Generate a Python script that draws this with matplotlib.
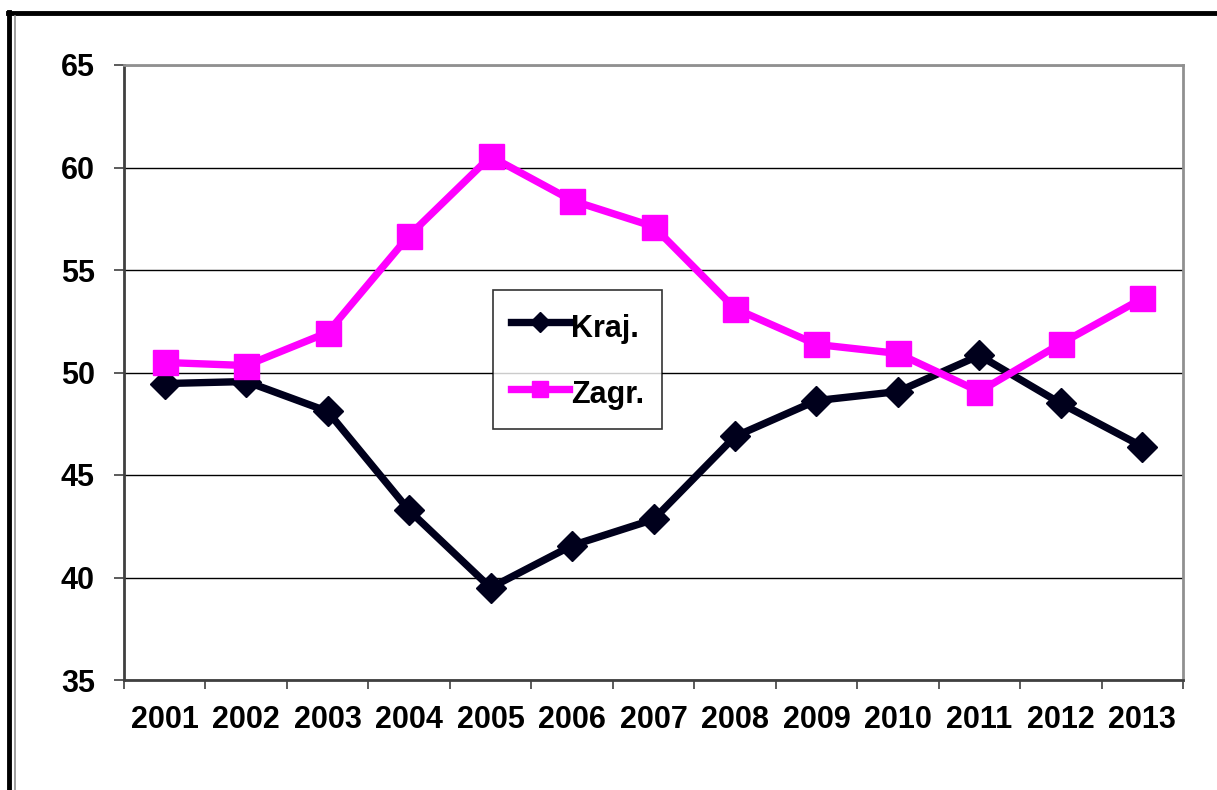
import matplotlib
matplotlib.use("Agg")
import matplotlib.pyplot as plt
from matplotlib.lines import Line2D

years = ["2001", "2002", "2003", "2004", "2005", "2006", "2007",
         "2008", "2009", "2010", "2011", "2012", "2013"]
kraj = [49.46, 49.56, 48.1, 43.27, 39.5, 41.56, 42.83, 46.88, 48.63, 49.07, 50.83, 48.49, 46.39]
zagr = [50.49, 50.34, 51.95, 56.68, 60.54, 58.39, 57.12, 53.12, 51.37, 50.93, 49.07, 51.41, 53.61]
yticks = [35, 40, 45, 50, 55, 60, 65]

plt.rcParams['font.family'] = ['Liberation Sans', 'DejaVu Sans']
plt.rcParams['font.weight'] = 'bold'

W, H = 1217, 790
fig = plt.figure(figsize=(W / 100, H / 100), dpi=100)
ax = fig.add_axes([124 / W, 1 - 680 / H, (1183 - 124) / W, (680 - 65) / H])

x = list(range(len(years)))
ax.plot(x, kraj, color='#00001c', lw=5.3, marker='D', ms=15, label='Kraj.', zorder=3,
        solid_joinstyle='miter')
ax.plot(x, zagr, color='#ff00ff', lw=5.3, marker='s', ms=18, label='Zagr.', zorder=3,
        solid_joinstyle='miter')

ax.set_xlim(-0.5, len(years) - 0.5)
ax.set_ylim(35, 65)
ax.set_yticks(yticks)
ax.set_yticklabels([str(v) for v in yticks], fontsize=22, fontweight='bold')
ax.set_xticks(x)
ax.set_xticklabels(years, fontsize=22, fontweight='bold')
ax.tick_params(axis='x', which='major', length=0, pad=18)
ax.set_xticks([i - 0.5 for i in range(len(years) + 1)], minor=True)
ax.tick_params(axis='x', which='minor', length=6.5, width=1.2, color='#404040', direction='out')
ax.tick_params(axis='y', length=7, width=1.2, color='#404040', direction='out', pad=14)

ax.grid(axis='y', color='black', lw=1)
ax.set_axisbelow(True)
for s in ['left', 'bottom']:
    ax.spines[s].set_color('#404040')
    ax.spines[s].set_linewidth(2)
for s in ['top', 'right']:
    ax.spines[s].set_color('#909090')
    ax.spines[s].set_linewidth(2)

leg = ax.legend(loc='upper left', bbox_to_anchor=((493 - 124) / (1183 - 124), 1 - (290 - 65) / (680 - 65)),
                fontsize=22, frameon=True, fancybox=False, edgecolor='black',
                markerscale=0.65, handlelength=1.9, handleheight=1.44, handletextpad=0.05,
                labelspacing=1.0, borderpad=0.6, borderaxespad=0)
leg.get_frame().set_linewidth(1.2)
for t in leg.get_texts():
    t.set_fontweight('bold')

# page border
fig.add_artist(Line2D([9 / W, 9 / W], [0, 1 - 12 / H], color='black', lw=3.5, transform=fig.transFigure))
fig.add_artist(Line2D([8 / W, 1], [1 - 13 / H, 1 - 13 / H], color='black', lw=3.5, transform=fig.transFigure))
fig.add_artist(Line2D([15 / W, 15 / W], [0, 1 - 16 / H], color='#909090', lw=1.2, transform=fig.transFigure))

fig.savefig('out.png', dpi=100, facecolor='white')
